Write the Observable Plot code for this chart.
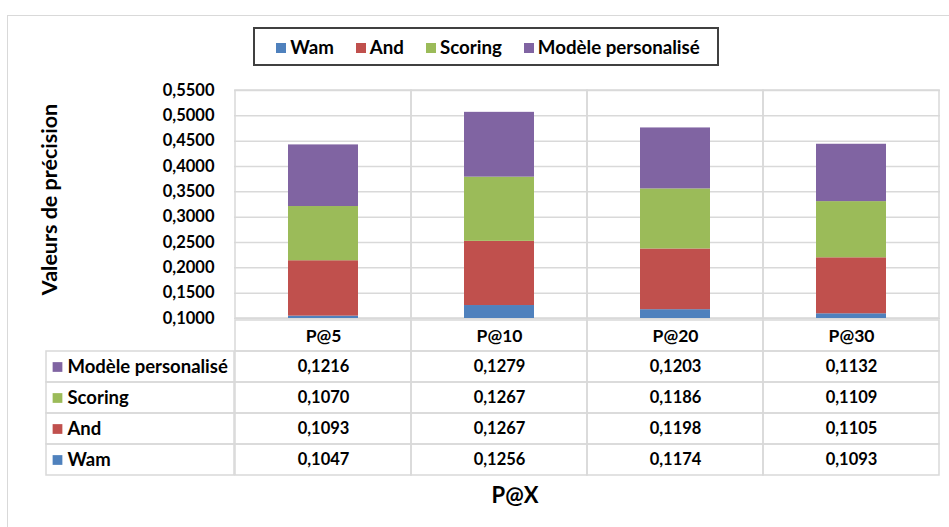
<!DOCTYPE html>
<html>
<head>
<meta charset="utf-8">
<script src="https://cdn.jsdelivr.net/npm/d3@7"></script>
<script src="https://cdn.jsdelivr.net/npm/@observablehq/plot@0.6"></script>
<style>
  body { margin: 0; background: #fff; }
  #wrap { position: relative; width: 949px; height: 527px; overflow: hidden; background: #fff;
          font-family: Lato, "Open Sans", sans-serif; font-weight: 700; color: #000; }
  #frame { position: absolute; left: 7px; top: 15px; width: 1000px; height: 600px;
           border-left: 1.5px solid #d9d9d9; border-top: 1.5px solid #d9d9d9; box-sizing: border-box; }
  #legend { position: absolute; left: 253px; top: 27px; width: 466px; height: 39px; box-sizing: border-box;
            border: 2px solid #404040; display: flex; align-items: center; justify-content: center; gap: 22px;
            font-size: 18.7px; padding-left: 4px; }
  #legend .item { display: flex; align-items: center; }
  #legend .sw { width: 10px; height: 10px; margin-right: 4px; margin-top: 2px; }
  .abs { position: absolute; }
  #xtitle { position: absolute; left: 415px; width: 200px; top: 481px; text-align: center; font-size: 22px; }
</style>
</head>
<body>
<div id="wrap">
  <div id="frame"></div>
  <div id="legend"></div>
  <div id="main" class="abs" style="left:0;top:0;"></div>
  <div id="table" class="abs" style="left:0;top:318px;"></div>
  <div id="labels" class="abs" style="left:46px;top:318px;"></div>
  <div id="xtitle">P@X</div>
</div>
<script>
const categories = ["P@5", "P@10", "P@20", "P@30"];
const series = ["Wam", "And", "Scoring", "Modèle personalisé"];
const colors = ["#4F81BD", "#C0504D", "#9BBB59", "#8064A2"];
const wam = [0.1047, 0.1256, 0.1174, 0.1093];
const and = [0.1093, 0.1267, 0.1198, 0.1105];
const scoring = [0.1070, 0.1267, 0.1186, 0.1109];
const modele = [0.1216, 0.1279, 0.1203, 0.1132];
const yTicks = [0.10, 0.15, 0.20, 0.25, 0.30, 0.35, 0.40, 0.45, 0.50, 0.55];
const yTitle = "Valeurs de précision";

const values = [wam, and, scoring, modele];
const data = series.flatMap((s, i) => categories.map((c, j) => ({series: s, cat: c, value: values[i][j]})));
const fmt = d => d.toFixed(4).replace(".", ",");
const grid = "#d9d9d9";
const font = {fontFamily: "Lato, 'Open Sans', sans-serif", fontWeight: "700", fontSize: "16px", background: "transparent", overflow: "visible", color: "#000"};

// legend
const leg = document.getElementById("legend");
series.forEach((s, i) => {
  const it = document.createElement("div"); it.className = "item";
  const sw = document.createElement("div"); sw.className = "sw"; sw.style.background = colors[i];
  const t = document.createElement("span"); t.textContent = s;
  it.appendChild(sw); it.appendChild(t); leg.appendChild(it);
});

// main chart
const main = Plot.plot({
  width: 949, height: 319, marginLeft: 234, marginRight: 9, marginTop: 90, marginBottom: 1,
  style: font,
  x: {domain: categories, padding: 0, axis: null},
  y: {domain: [0.1, 0.55]},
  color: {domain: series, range: colors},
  marks: [
    Plot.gridY(yTicks, {stroke: grid, strokeOpacity: 1, strokeWidth: 1.5}),
    Plot.cell(categories, {x: d => d, stroke: grid, strokeWidth: 1.5, fill: "none"}),
    Plot.barY(data, {x: "cat", y: "value", fill: "series", insetLeft: 53, insetRight: 53, clip: true}),
    Plot.axisY(yTicks, {tickSize: 0, tickPadding: 20, tickFormat: fmt, label: null, fontSize: 16.5}),
    Plot.text([yTitle], {text: d => d, frameAnchor: "left", textAnchor: "middle", rotate: -90, dx: -184, dy: -5, fontSize: 21.5})
  ]
});
document.getElementById("main").appendChild(main);

// data table
const rows = ["header", ...series.slice().reverse()];
const tableCells = rows.flatMap(r => categories.map(c => ({row: r, cat: c})));
const table = Plot.plot({
  width: 949, height: 158, marginLeft: 234, marginRight: 9, marginTop: 1, marginBottom: 0,
  style: font,
  x: {domain: categories, padding: 0, axis: null},
  y: {domain: rows, padding: 0, axis: null},
  marks: [
    Plot.cell(tableCells, {x: "cat", y: "row", stroke: grid, strokeWidth: 1.5, fill: "none"}),
    Plot.text(categories, {x: d => d, y: () => "header", text: d => d, fontSize: 17.5}),
    Plot.text(data, {x: "cat", y: "series", text: d => fmt(d.value), fontSize: 16.5})
  ]
});
document.getElementById("table").appendChild(table);

// label column
const labelRows = series.slice().reverse();
const labels = Plot.plot({
  width: 188, height: 158, marginLeft: 0, marginRight: 0, marginTop: 1, marginBottom: 0,
  style: font,
  y: {domain: rows, padding: 0, axis: null},
  color: {domain: series, range: colors},
  marks: [
    Plot.cell(labelRows, {y: d => d, stroke: grid, strokeWidth: 1.5, fill: "none"}),
    Plot.dot(labelRows, {y: d => d, frameAnchor: "left", dx: 11, symbol: "square", r: 5.5, fill: d => d}),
    Plot.text(labelRows, {y: d => d, text: d => d, frameAnchor: "left", dx: 21, textAnchor: "start", fontSize: 18.5})
  ]
});
document.getElementById("labels").appendChild(labels);
</script>
</body>
</html>
